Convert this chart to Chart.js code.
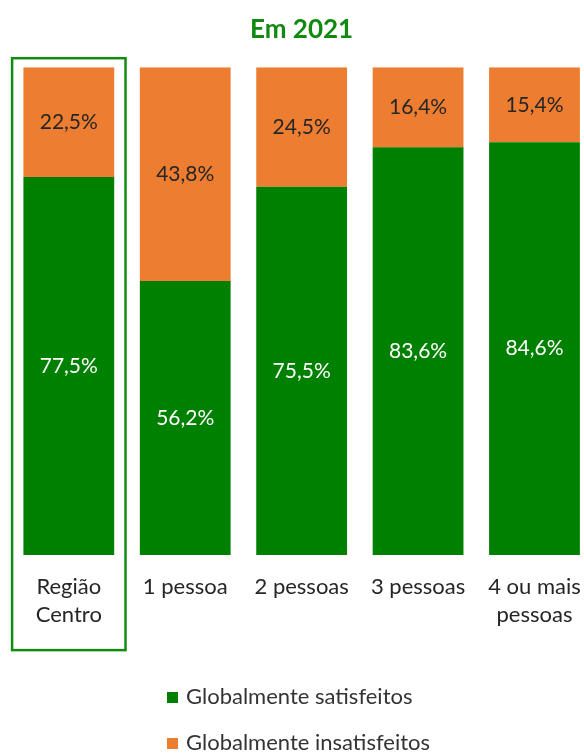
<!DOCTYPE html>
<html>
<head>
<meta charset="utf-8">
<script src="https://cdn.jsdelivr.net/npm/chart.js@4.4.0/dist/chart.umd.min.js"></script>
<style>
  html, body { margin: 0; padding: 0; background: #fff; overflow: hidden; }
</style>
</head>
<body>
<canvas id="satisChart" width="600" height="754"></canvas>
<script>
const categorias = [['Região', 'Centro'], '1 pessoa', '2 pessoas', '3 pessoas', ['4 ou mais', 'pessoas']];
const satisfeitos = [77.5, 56.2, 75.5, 83.6, 84.6];
const insatisfeitos = [22.5, 43.8, 24.5, 16.4, 15.4];
const nomesSeries = ['Globalmente satisfeitos', 'Globalmente insatisfeitos'];

const verde = '#008000';
const laranja = '#ed7d31';
const fonte = 'Lato, "Noto Sans", sans-serif';

// valores escritos no meio de cada segmento
const rotulosPlugin = {
  id: 'rotulos',
  afterDatasetsDraw(chart) {
    const ctx = chart.ctx;
    ctx.save();
    ctx.font = '21px ' + fonte;
    ctx.textAlign = 'center';
    ctx.textBaseline = 'middle';
    chart.data.datasets.forEach((ds, i) => {
      chart.getDatasetMeta(i).data.forEach((bar, j) => {
        ctx.fillStyle = i === 0 ? '#ffffff' : '#262626';
        ctx.fillText(ds.data[j].toFixed(1).replace('.', ',') + '%', bar.x, (bar.y + bar.base) / 2);
      });
    });
    ctx.restore();
  }
};

// moldura verde à volta da Região Centro + legenda em duas linhas
const extrasPlugin = {
  id: 'extras',
  afterDraw(chart) {
    const ctx = chart.ctx;
    const xs = chart.scales.x;
    const area = chart.chartArea;
    const x0 = xs.getPixelForValue(0);
    const meia = (xs.getPixelForValue(1) - x0) / 2;
    ctx.save();
    ctx.strokeStyle = '#118c11';
    ctx.lineWidth = 2.5;
    ctx.strokeRect(x0 - meia + 1.5, area.top - 9, meia * 2 - 3, area.bottom - area.top + 104);

    ctx.font = '22px ' + fonte;
    ctx.textBaseline = 'middle';
    chart.data.datasets.forEach((ds, i) => {
      const y = 697 + i * 46;
      ctx.fillStyle = ds.backgroundColor;
      ctx.fillRect(167, y - 5, 11, 11);
      ctx.fillStyle = '#333333';
      ctx.fillText(ds.label, 186, y);
    });
    ctx.restore();
  }
};

new Chart(document.getElementById('satisChart').getContext('2d'), {
  type: 'bar',
  data: {
    labels: categorias,
    datasets: [{
      label: nomesSeries[0],
      data: satisfeitos,
      backgroundColor: verde,
      barPercentage: 0.78,
      categoryPercentage: 1
    }, {
      label: nomesSeries[1],
      data: insatisfeitos,
      backgroundColor: laranja,
      barPercentage: 0.78,
      categoryPercentage: 1
    }]
  },
  options: {
    responsive: false,
    animation: false,
    layout: { padding: { left: 10.6, right: 7.3, top: 0, bottom: 107 } },
    plugins: {
      legend: { display: false },
      tooltip: { enabled: false },
      title: {
        display: true,
        text: 'Em 2021',
        color: '#0f8a0f',
        font: { family: fonte, size: 26, weight: 'bold' },
        padding: { top: 14, bottom: 22 }
      }
    },
    scales: {
      x: {
        stacked: true,
        grid: { display: false, drawTicks: false },
        border: { display: false },
        ticks: {
          color: '#262626',
          font: { family: fonte, size: 22, lineHeight: 1.27 },
          padding: 18,
          maxRotation: 0,
          autoSkip: false
        }
      },
      y: { stacked: true, display: false, min: 0, max: 100 }
    }
  },
  plugins: [rotulosPlugin, extrasPlugin]
});
</script>
</body>
</html>
